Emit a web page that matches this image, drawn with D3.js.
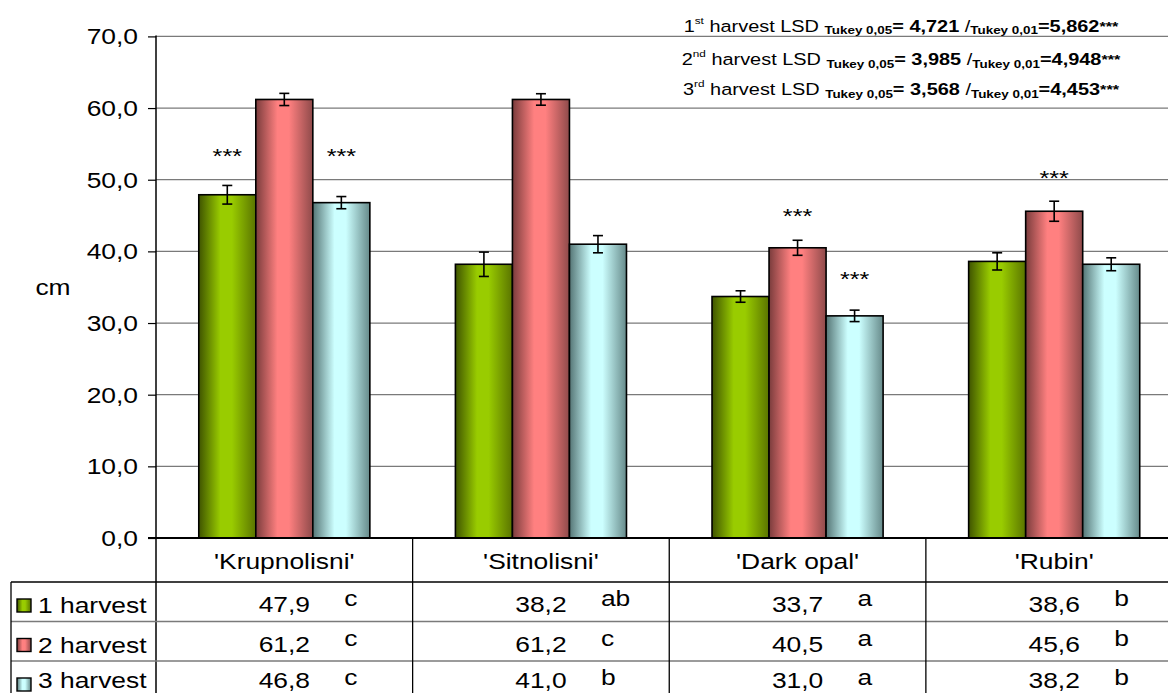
<!DOCTYPE html>
<html>
<head>
<meta charset="utf-8">
<script src="https://cdn.jsdelivr.net/npm/d3@7"></script>
<style>
  html, body { margin: 0; padding: 0; background: #fff; }
  svg { display: block; font-family: "Liberation Sans", Arial, sans-serif; }
</style>
</head>
<body>
<svg id="chart" width="1168" height="693"></svg>
<script>
// ---- data ----
const categories = ["'Krupnolisni'", "'Sitnolisni'", "'Dark opal'", "'Rubin'"];
const seriesNames = ["1 harvest", "2 harvest", "3 harvest"];
const harvest1 = [47.9, 38.2, 33.7, 38.6];
const harvest2 = [61.2, 61.2, 40.5, 45.6];
const harvest3 = [46.8, 41.0, 31.0, 38.2];
const err1 = [1.3, 1.7, 0.8, 1.2];
const err2 = [0.85, 0.8, 1.05, 1.4];
const err3 = [0.85, 1.2, 0.8, 0.9];
const letters1 = ["c", "ab", "a", "b"];
const letters2 = ["c", "c", "a", "b"];
const letters3 = ["c", "b", "a", "b"];
const yTicks = [0, 10, 20, 30, 40, 50, 60, 70];
// significance markers: series index, category index, label level (cm)
const sigSeries = [0, 2, 1, 2, 1];
const sigCats = [0, 0, 2, 2, 3];
const sigLevels = [52.3, 52.4, 44.0, 35.2, 49.2];
const lsdHarvest = ["1", "2", "3"];
const lsdOrd = ["st", "nd", "rd"];
const lsd05 = ["4,721", "3,985", "3,568"];
const lsd01 = ["5,862", "4,948", "4,453"];

const seriesValues = [harvest1, harvest2, harvest3];
const seriesErrors = [err1, err2, err3];
const seriesLetters = [letters1, letters2, letters3];

// ---- layout ----
const SX = 1.2;                 // horizontal text stretch
const FONT = 22;
const plotLeft = 156, plotRight = 1182.5, plotTop = 36.4, plotBottom = 538;
const tableLeft = 11;
const headerBottom = 582;
const rowH = 39.5;

const colors = [
  { base: "#99cc00", dark: "#3f5400", dark2: "#5a7400" },
  { base: "#ff8080", dark: "#7a3c3c", dark2: "#8e4a4a" },
  { base: "#ccffff", dark: "#557575", dark2: "#668a8a" }
];

const svg = d3.select("#chart");
const W = 1168, H = 693;

const defs = svg.append("defs");
colors.forEach((c, i) => {
  const g = defs.append("linearGradient").attr("id", "grad" + i)
    .attr("x1", "0%").attr("x2", "100%").attr("y1", "0%").attr("y2", "0%");
  g.append("stop").attr("offset", "0%").attr("stop-color", c.dark);
  g.append("stop").attr("offset", "38%").attr("stop-color", c.base);
  g.append("stop").attr("offset", "58%").attr("stop-color", c.base);
  g.append("stop").attr("offset", "100%").attr("stop-color", c.dark2);
});

const x = d3.scaleBand().domain(categories).range([plotLeft, plotRight]).padding(0);
const xs = d3.scaleBand().domain(d3.range(seriesNames.length))
  .range([0, x.bandwidth()]).paddingInner(0).paddingOuter(0.75);
const y = d3.scaleLinear().domain([0, 70]).range([plotBottom, plotTop]);

// stretched text helper
function stext(parent, tx, ty, str, size, anchor, weight) {
  return parent.append("text")
    .attr("transform", `translate(${tx},${ty}) scale(${SX},1)`)
    .attr("font-size", size)
    .attr("text-anchor", anchor || "start")
    .attr("font-weight", weight || "normal")
    .attr("fill", "#000")
    .text(str);
}

// gridlines
svg.append("g").selectAll("line").data(yTicks.filter(t => t > 0)).join("line")
  .attr("x1", plotLeft).attr("x2", W)
  .attr("y1", d => y(d)).attr("y2", d => y(d))
  .attr("stroke", "#7a7a7a").attr("stroke-width", 1.2);

// y axis
const yAxis = d3.axisLeft(y).tickValues(yTicks).tickSize(8).tickSizeOuter(0)
  .tickFormat(d => d3.format(".1f")(d).replace(".", ","));
const ya = svg.append("g").attr("transform", `translate(${plotLeft},0)`).call(yAxis);
ya.select(".domain").remove();
ya.selectAll(".tick line").attr("stroke", "#000").attr("stroke-width", 1.2);
ya.selectAll(".tick text").remove();
yTicks.forEach(t => {
  stext(svg, 138, y(t) + 8, d3.format(".1f")(t).replace(".", ","), FONT, "end");
});
stext(svg, 53, 295, "cm", FONT, "middle");

// bars
const groups = svg.append("g").selectAll("g").data(categories).join("g")
  .attr("transform", d => `translate(${x(d)},0)`);

groups.selectAll("rect")
  .data((d, ci) => seriesValues.map((vals, si) => ({ si, ci, v: vals[ci], e: seriesErrors[si][ci] })))
  .join("rect")
  .attr("x", d => xs(d.si))
  .attr("y", d => y(d.v))
  .attr("width", xs.bandwidth())
  .attr("height", d => y(0) - y(d.v))
  .attr("fill", d => `url(#grad${d.si})`)
  .attr("stroke", "#000")
  .attr("stroke-width", 1.6);

// error bars
const eb = groups.selectAll("g.err")
  .data((d, ci) => seriesValues.map((vals, si) => ({ si, ci, v: vals[ci], e: seriesErrors[si][ci] })))
  .join("g").attr("class", "err")
  .attr("stroke", "#000").attr("stroke-width", 1.6);
eb.append("line")
  .attr("x1", d => xs(d.si) + xs.bandwidth() / 2).attr("x2", d => xs(d.si) + xs.bandwidth() / 2)
  .attr("y1", d => y(d.v + d.e)).attr("y2", d => y(d.v - d.e));
eb.append("line")
  .attr("x1", d => xs(d.si) + xs.bandwidth() / 2 - 5).attr("x2", d => xs(d.si) + xs.bandwidth() / 2 + 5)
  .attr("y1", d => y(d.v + d.e)).attr("y2", d => y(d.v + d.e));
eb.append("line")
  .attr("x1", d => xs(d.si) + xs.bandwidth() / 2 - 5).attr("x2", d => xs(d.si) + xs.bandwidth() / 2 + 5)
  .attr("y1", d => y(d.v - d.e)).attr("y2", d => y(d.v - d.e));

// significance stars
sigLevels.forEach((lv, i) => {
  const cx = x(categories[sigCats[i]]) + xs(sigSeries[i]) + xs.bandwidth() / 2;
  stext(svg, cx, y(lv), "***", 21, "middle");
});

// y axis line
svg.append("line").attr("x1", plotLeft).attr("x2", plotLeft)
  .attr("y1", plotTop - 1).attr("y2", H).attr("stroke", "#000").attr("stroke-width", 1.5);

// ---- data table ----
const tbl = svg.append("g");
// category axis line
tbl.append("line").attr("x1", plotLeft - 8).attr("x2", W).attr("y1", plotBottom).attr("y2", plotBottom)
  .attr("stroke", "#000").attr("stroke-width", 2.2);
// header bottom line
tbl.append("line").attr("x1", tableLeft).attr("x2", W).attr("y1", headerBottom).attr("y2", headerBottom)
  .attr("stroke", "#000").attr("stroke-width", 1.3);
// row separators
[1, 2].forEach(r => {
  tbl.append("line").attr("x1", tableLeft).attr("x2", W)
    .attr("y1", headerBottom + r * rowH).attr("y2", headerBottom + r * rowH)
    .attr("stroke", "#7a7a7a").attr("stroke-width", 1.3);
});
// legend column left border
tbl.append("line").attr("x1", tableLeft).attr("x2", tableLeft).attr("y1", headerBottom).attr("y2", H)
  .attr("stroke", "#000").attr("stroke-width", 1.3);
// column separators
categories.slice(1).forEach(c => {
  tbl.append("line").attr("x1", x(c)).attr("x2", x(c)).attr("y1", plotBottom).attr("y2", H)
    .attr("stroke", "#000").attr("stroke-width", 1.3);
});
// category names
categories.forEach(c => {
  stext(tbl, x(c) + x.bandwidth() / 2, 568.5, c, FONT, "middle");
});
// legend rows
seriesNames.forEach((s, si) => {
  const top = headerBottom + si * rowH;
  const base = Math.min(top + 30, 688);
  tbl.append("rect").attr("x", 17).attr("y", top + 17).attr("width", 14).attr("height", 13)
    .attr("fill", `url(#grad${si})`).attr("stroke", "#000").attr("stroke-width", 1.4);
  stext(tbl, 38, Math.min(top + 31, 688), s, FONT, "start");
  categories.forEach((c, ci) => {
    const cx = x(c) + x.bandwidth() / 2;
    stext(tbl, cx, base, d3.format(".1f")(seriesValues[si][ci]).replace(".", ","), FONT, "middle");
    stext(tbl, cx + 60, top + 24, seriesLetters[si][ci], FONT, "start");
  });
});

// ---- LSD annotation ----
const lsdBase = [31.5, 65, 95];
lsdHarvest.forEach((h, i) => {
  const t = svg.append("text")
    .attr("transform", `translate(901,${lsdBase[i]}) scale(${SX},1)`)
    .attr("text-anchor", "middle").attr("font-size", 16.6).attr("fill", "#000");
  t.append("tspan").text(h);
  t.append("tspan").attr("font-size", 9.8).attr("dy", -8).text(lsdOrd[i]);
  t.append("tspan").attr("dy", 8).text(" harvest LSD ");
  t.append("tspan").attr("font-size", 11.2).attr("font-weight", "bold").attr("dy", 2.5).text("Tukey 0,05");
  t.append("tspan").attr("font-weight", "bold").attr("dy", -2.5).text("= " + lsd05[i]);
  t.append("tspan").text(" /");
  t.append("tspan").attr("font-size", 11.2).attr("font-weight", "bold").attr("dy", 2.5).text("Tukey 0,01");
  t.append("tspan").attr("font-weight", "bold").attr("dy", -2.5).text("=" + lsd01[i]);
  t.append("tspan").attr("font-size", 13.5).attr("font-weight", "bold").attr("dy", -1).text("***");
});
</script>
</body>
</html>
